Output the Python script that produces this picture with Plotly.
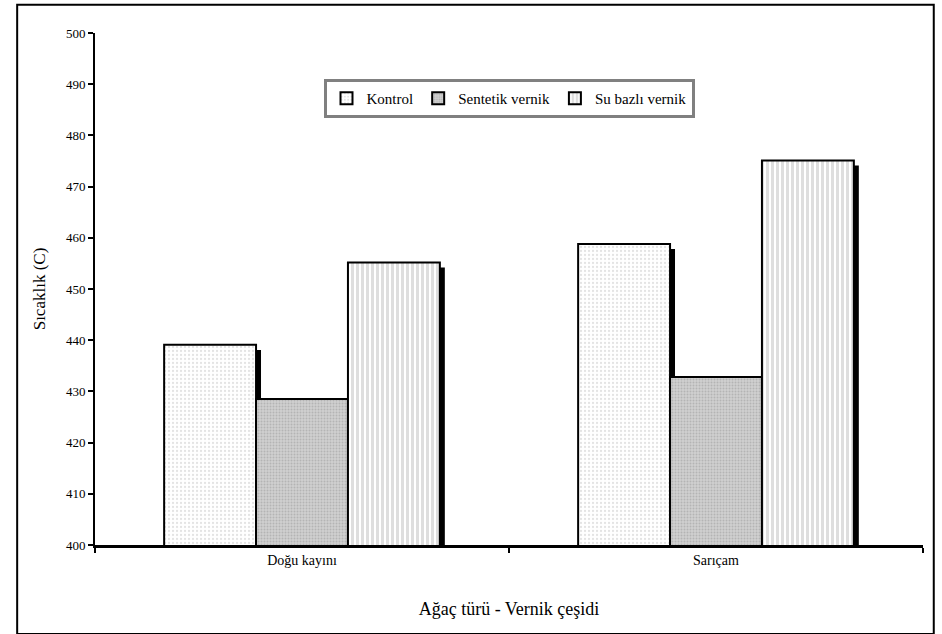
import plotly.graph_objects as go

# Data
categories = ["Doğu kayını", "Sarıçam"]
series_names = ["Kontrol", "Sentetik vernik", "Su bazlı vernik"]
kontrol = [439.1, 458.8]
sentetik = [428.5, 432.8]
su_bazli = [455.2, 475.1]
y_ticks = [400, 410, 420, 430, 440, 450, 460, 470, 480, 490, 500]

series_values = [kontrol, sentetik, su_bazli]
positions = list(range(len(categories)))

FONT = "Liberation Serif"
bar_w = 0.222
group_start = -1.5 * bar_w
shadow_w = 0.012
shadow_drop = 1.0

patterns = [
    dict(shape=".", fgcolor="#c8c8c8", bgcolor="#ffffff", size=4, solidity=0.25),
    dict(shape=".", fgcolor="#9a9a9a", bgcolor="#cfcfcf", size=3, solidity=0.35),
    dict(shape="|", fgcolor="#bdbdbd", bgcolor="#ffffff", size=5, solidity=0.6),
]

fig = go.Figure()

# Drop shadows behind each bar
for i, vals in enumerate(series_values):
    fig.add_trace(go.Bar(
        x=positions, y=[v - shadow_drop for v in vals],
        width=shadow_w, offset=group_start + (i + 1) * bar_w,
        marker=dict(color="black", line=dict(width=0)),
        showlegend=False, hoverinfo="skip",
    ))

# Main bars
for i, (name, vals) in enumerate(zip(series_names, series_values)):
    fig.add_trace(go.Bar(
        x=positions, y=vals, name=name,
        width=bar_w, offset=group_start + i * bar_w,
        marker=dict(color="white", pattern=patterns[i],
                    line=dict(color="black", width=2)),
    ))

fig.update_layout(
    width=942, height=634,
    barmode="overlay",
    paper_bgcolor="white", plot_bgcolor="white",
    margin=dict(l=95, r=19, t=33, b=89),
    font=dict(family=FONT, color="black"),
    showlegend=True,
    legend=dict(
        orientation="h", x=0.5, y=0.872, xanchor="center", yanchor="middle",
        bgcolor="white", bordercolor="#808080", borderwidth=3,
        font=dict(family=FONT, size=15, color="black"),
        itemwidth=30, tracegroupgap=0, itemsizing="constant",
    ),
    xaxis=dict(
        range=[-0.5, 1.5], tickvals=positions, ticktext=categories,
        ticks="", showgrid=False, zeroline=False,
        showline=True, linecolor="black", linewidth=2.5,
        tickfont=dict(family=FONT, size=14, color="black"),
        minor=dict(tick0=0.5, dtick=1, ticks="outside", ticklen=5,
                   tickcolor="black", tickwidth=1.5, showgrid=False),
        title=dict(text="Ağaç türü - Vernik çeşidi",
                   font=dict(family=FONT, size=18), standoff=36),
    ),
    yaxis=dict(
        range=[400, 500], tickvals=y_ticks,
        ticks="outside", ticklen=5, tickcolor="black", tickwidth=1.5,
        showgrid=False, zeroline=False,
        showline=True, linecolor="black", linewidth=2,
        tickfont=dict(family=FONT, size=13, color="black"),
        title=dict(text="Sıcaklık (C)", font=dict(family=FONT, size=17),
                   standoff=16),
    ),
    shapes=[dict(type="rect", xref="paper", yref="paper",
                 x0=-0.094, x1=1.013, y0=-0.174, y1=1.055,
                 line=dict(color="black", width=2), layer="above")],
)

fig.write_html("out.html")
